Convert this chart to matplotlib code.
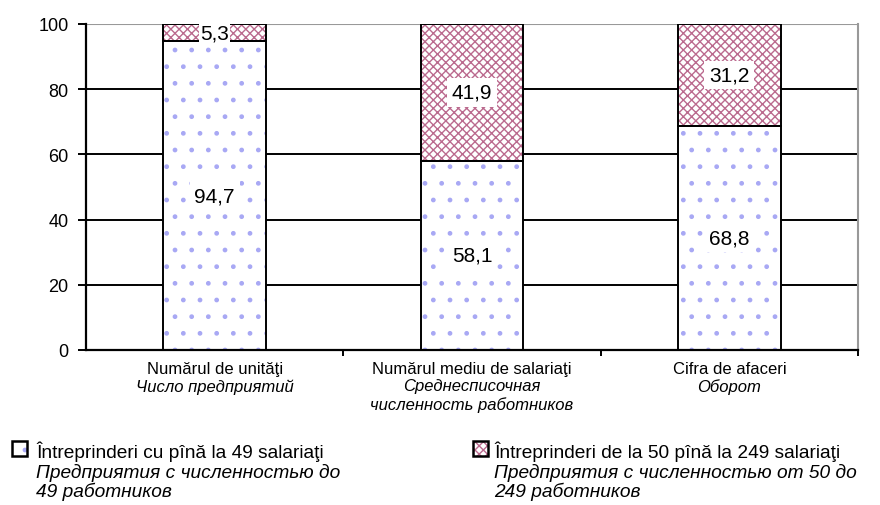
import numpy as np
import matplotlib.pyplot as plt
from matplotlib.patches import Rectangle

plt.rcParams['font.family'] = ['Liberation Sans', 'DejaVu Sans']
plt.rcParams['hatch.linewidth'] = 1.0

# ===============================
# Data
# ===============================
categories_ro = ['Numărul de unităţi', 'Numărul mediu de salariaţi', 'Cifra de afaceri']
categories_ru = [['Число предприятий'], ['Среднесписочная', 'численность работников'], ['Оборот']]
small = [94.7, 58.1, 68.8]
medium = [5.3, 41.9, 31.2]
small_label = ['94,7', '58,1', '68,8']
medium_label = ['5,3', '41,9', '31,2']
legend_ro = ['Întreprinderi cu pînă la 49 salariaţi', 'Întreprinderi de la 50 pînă la 249 salariaţi']
legend_ru = [['Предприятия с численностью до', '49 работников'],
             ['Предприятия с численностью от 50 до', '249 работников']]

blue_hatch = '#a8a8f4'
red_hatch = '#bb6a8e'

W, H = 880, 506
fig = plt.figure(figsize=(W / 100, H / 100), dpi=100)
ax = fig.add_axes([86 / W, 1 - 351 / H, 772 / W, 326 / H])

x = np.arange(len(categories_ro))
w = 0.4

# hatched fills (hatch colour follows edgecolor), then black outlines
ax.bar(x, small, w, color='white', edgecolor=blue_hatch, hatch='.', linewidth=0, zorder=2)
ax.bar(x, medium, w, bottom=small, color='white', edgecolor=red_hatch, hatch='xxxx', linewidth=0, zorder=2)
ax.bar(x, small, w, fill=False, edgecolor='black', linewidth=1.4, zorder=3)
ax.bar(x, medium, w, bottom=small, fill=False, edgecolor='black', linewidth=1.4, zorder=3)

for i in range(len(x)):
    ax.text(x[i], small[i] / 2, small_label[i], ha='center', va='center', fontsize=15,
            bbox=dict(facecolor='white', edgecolor='none', pad=3.5), zorder=4)
    pad = 0.8 if medium[i] < 10 else 3.5
    ax.text(x[i], small[i] + medium[i] / 2, medium_label[i], ha='center', va='center', fontsize=15,
            bbox=dict(facecolor='white', edgecolor='none', pad=pad), zorder=4)

ax.set_xlim(-0.5, 2.5)
ax.set_ylim(0, 100)
ax.set_yticks(np.arange(0, 101, 20))
ax.tick_params(axis='y', labelsize=13, direction='out', length=5.5, width=1.4, pad=7)
ax.yaxis.grid(True, color='black', linewidth=1.4, zorder=0)
ax.set_axisbelow(True)
ax.set_xticks([0.5, 1.5, 2.5])
ax.set_xticklabels([])
ax.tick_params(axis='x', direction='out', length=4, width=1.4)

ax.spines['top'].set_visible(False)
ax.spines['right'].set_color('#999999')
ax.spines['right'].set_linewidth(1.5)
ax.spines['left'].set_linewidth(1.6)
ax.spines['bottom'].set_linewidth(1.6)
ax.axhline(100, color='#999999', linewidth=1.5, zorder=1)

# category labels (pixel rows of the reference)
for i in range(len(x)):
    xf = ax.transData.transform((x[i], 0))[0] / W
    fig.text(xf, 1 - 370 / H, categories_ro[i], ha='center', va='center', fontsize=12)
    for k, line in enumerate(categories_ru[i]):
        fig.text(xf, 1 - (387 + 18 * k) / H, line, ha='center', va='center', fontsize=12, style='italic')

# legend
sq_x = [12, 473]
tx = [36, 494]
cols = [(blue_hatch, '.'), (red_hatch, 'xxxx')]
for j in range(2):
    col, h = cols[j]
    fig.patches.append(Rectangle((sq_x[j] / W, 1 - 457 / H), 15 / W, 15 / H, transform=fig.transFigure,
                                 facecolor='white', edgecolor=col, hatch=h, linewidth=0))
    fig.patches.append(Rectangle((sq_x[j] / W, 1 - 457 / H), 15 / W, 15 / H, transform=fig.transFigure,
                                 fill=False, edgecolor='black', linewidth=1.8))
    fig.text(tx[j] / W, 1 - 458 / H, legend_ro[j], ha='left', va='baseline', fontsize=13.8)
    for k, line in enumerate(legend_ru[j]):
        fig.text(tx[j] / W, 1 - (478 + 19.5 * k) / H, line, ha='left', va='baseline', fontsize=13.8,
                 style='italic')

fig.savefig('out.png', dpi=100)
